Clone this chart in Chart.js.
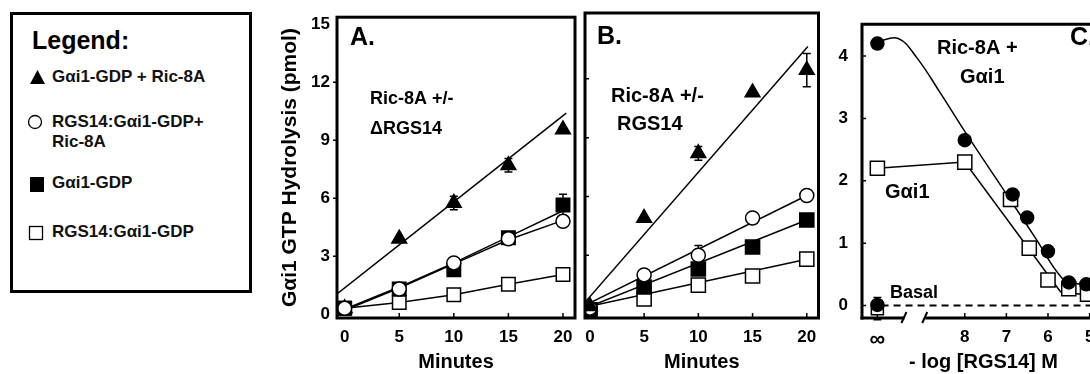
<!DOCTYPE html>
<html>
<head>
<meta charset="utf-8">
<title>Gαi1 GTP hydrolysis</title>
<script src="https://cdn.jsdelivr.net/npm/chart.js@4.4.1/dist/chart.umd.min.js"></script>
<style>
  html, body { margin:0; padding:0; background:#fff; }
  body { width:1090px; height:374px; overflow:hidden; position:relative; font-family:"Liberation Sans", Arial, Helvetica, sans-serif; color:#000; }
  canvas { position:absolute; top:0; }
  #cA { left:270px; } #cB { left:560px; } #cC { left:830px; }
  #legend { position:absolute; left:10px; top:12px; width:242px; height:281px; box-sizing:border-box; border:3px solid #000; }
  #legend .t { position:absolute; white-space:nowrap; font-weight:bold; font-size:17px; line-height:20px; color:#111; }
  #legend .ttl { font-size:25px; line-height:28px; color:#000; }
  #legend svg { position:absolute; left:0; top:0; }
</style>
</head>
<body>
<div id="legend">
  <svg width="236" height="275">
    <polygon points="17,69 24.5,55 32,69" fill="#000"/>
    <circle cx="22" cy="107" r="6.5" fill="#fff" stroke="#000" stroke-width="1.3"/>
    <rect x="17" y="162" width="14" height="15" fill="#000"/>
    <rect x="16.5" y="211.5" width="13" height="13" fill="#fff" stroke="#000" stroke-width="1.3"/>
  </svg>
  <div class="t ttl" style="left:19px; top:11px;">Legend:</div>
  <div class="t" style="left:39px; top:52px;">Gαi1-GDP + Ric-8A</div>
  <div class="t" style="left:39px; top:97px;">RGS14:Gαi1-GDP+<br>Ric-8A</div>
  <div class="t" style="left:39px; top:158px;">Gαi1-GDP</div>
  <div class="t" style="left:39px; top:207px;">RGS14:Gαi1-GDP</div>
</div>
<canvas id="cA" width="316" height="374"></canvas>
<canvas id="cB" width="270" height="374"></canvas>
<canvas id="cC" width="290" height="374"></canvas>
<script>
// ---------------- DATA ----------------
const minutes = [0, 5, 10, 15, 20];
const yTicksAB = [0, 3, 6, 9, 12, 15];

// Panel A : Ric-8A +/- ΔRGS14
const aTri = [0.3, 3.9, 5.75, 7.7, 9.55];
const aTriErr = [0, 0, 0.35, 0.35, 0];
const aCirc = [0.3, 1.3, 2.65, 3.9, 4.8];
const aFsq = [0.3, 1.3, 2.3, 3.95, 5.65];
const aFsqErr = [0, 0, 0, 0, 0.55];
const aOsq = [0.3, 0.6, 1.0, 1.55, 2.05];
const aTriFitX = [-0.7, 20.3];
const aTriFitY = [1.05, 10.4];
const aCircFitX = [0, 5, 10, 15, 20];
const aCircFitY = [0.2, 1.35, 2.6, 3.85, 4.85];
const aFsqFitX = [0, 5, 10, 15, 20.2];
const aFsqFitY = [0.25, 1.4, 2.65, 4.0, 5.4];

// Panel B : Ric-8A +/- RGS14
const bTri = [0.4, 4.9, 8.2, 11.3, 12.45];
const bTriErr = [0, 0, 0.35, 0, 0.85];
const bCirc = [0.3, 2.0, 3.0, 4.9, 6.05];
const bCircErr = [0, 0, 0.5, 0, 0];
const bFsq = [0.2, 1.38, 2.3, 3.42, 4.8];
const bOsq = [0.2, 0.77, 1.48, 1.94, 2.8];
const bTriFitX = [-0.45, 20.1];
const bTriFitY = [0.6, 13.65];
const bCircFitX = [-0.45, 20];
const bCircFitY = [0.45, 6.05];
const bFsqFitX = [-0.45, 20];
const bFsqFitY = [0.3, 4.8];
const bOsqFitX = [-0.45, 20];
const bOsqFitY = [0.35, 2.8];

// Panel C : -log [RGS14] M  (10.1 = "∞", no RGS14)
const INF = 10.1;
const cXTicks = [INF, 8, 7, 6, 5];
const cYTicks = [0, 1, 2, 3, 4];
const cCircX = [INF, 8, 6.85, 6.5, 6, 5.5, 5.08];
const cCircY = [4.2, 2.65, 1.78, 1.41, 0.87, 0.37, 0.34];
const cSqX = [INF, 8, 6.9, 6.45, 6, 5.5, 5.05];
const cSqY = [2.2, 2.3, 1.7, 0.92, 0.41, 0.27, 0.18];
const cBasalX = [INF];
const cBasalCircY = [0.01];
const cBasalSqY = [-0.05];
const cBasalSqErr = [0.18];
const cCircFitX = [INF, 9.6, 9.15, 8.6, 7.95, 7.0, 6.3, 5.65, 5.3, 4.7];
const cCircFitY = [4.23, 4.28, 3.97, 3.42, 2.74, 1.79, 1.08, 0.43, 0.35, 0.33];
const cSqFitX = [INF, 8, 5.7, 5.05, 4.7];
const cSqFitY = [2.2, 2.3, 0.22, 0.17, 0.15];
const cBasalLineX = [10.0, 4.6];
const cBasalLineY = [0, 0];

// ---------------- HELPERS ----------------
const FONT = '"Liberation Sans", Arial, Helvetica, sans-serif';
Chart.defaults.font.family = FONT;
Chart.defaults.color = '#000';

const pts = (xs, ys) => xs.map((x, i) => ({ x, y: ys[i] }));
function markers(xs, ys, style, fill, r, order) {
  return { data: pts(xs, ys), showLine: false, pointStyle: style, pointRadius: r, pointHoverRadius: r,
    pointBackgroundColor: fill, pointBorderColor: '#000', pointBorderWidth: 1.5, order };
}
function line(xs, ys, extra) {
  return Object.assign({ data: pts(xs, ys), showLine: true, pointRadius: 0, pointHoverRadius: 0,
    borderColor: '#000', borderWidth: 1.5, fill: false, tension: 0, order: 10 }, extra || {});
}

const decor = {
  id: 'decor',
  beforeDatasetsDraw(chart, args, o) {
    const ctx = chart.ctx, xs = chart.scales.x, ys = chart.scales.y;
    ctx.save();
    ctx.strokeStyle = '#000'; ctx.lineWidth = 1.5;
    (o.errors || []).forEach(e => {
      e.x.forEach((xv, i) => {
        const er = e.err[i]; if (!er) return;
        const px = xs.getPixelForValue(xv);
        const pT = ys.getPixelForValue(e.y[i] + er), pB = ys.getPixelForValue(e.y[i] - er);
        ctx.beginPath();
        ctx.moveTo(px, pT); ctx.lineTo(px, pB);
        ctx.moveTo(px - 4, pT); ctx.lineTo(px + 4, pT);
        ctx.moveTo(px - 4, pB); ctx.lineTo(px + 4, pB);
        ctx.stroke();
      });
    });
    ctx.restore();
  },
  afterDatasetsDraw(chart, args, o) {
    const ctx = chart.ctx, ca = chart.chartArea, xs = chart.scales.x, ys = chart.scales.y;
    ctx.save();
    ctx.strokeStyle = '#000'; ctx.fillStyle = '#000';
    ctx.lineWidth = 3;
    if (o.breaks) {
      const b1 = xs.getPixelForValue(o.breaks[0]), b2 = xs.getPixelForValue(o.breaks[1]);
      ctx.beginPath();
      ctx.moveTo(ca.left, ca.bottom + 1.5); ctx.lineTo(ca.left, ca.top); ctx.lineTo(ca.right, ca.top); ctx.lineTo(ca.right, ca.bottom);
      ctx.stroke();
      ctx.beginPath();
      ctx.moveTo(ca.left - 1.5, ca.bottom); ctx.lineTo(b1, ca.bottom);
      ctx.moveTo(b2, ca.bottom); ctx.lineTo(ca.right + 1.5, ca.bottom);
      ctx.stroke();
      ctx.lineWidth = 2;
      ctx.beginPath();
      ctx.moveTo(b1 - 3, ca.bottom + 5); ctx.lineTo(b1 + 2, ca.bottom - 6);
      ctx.moveTo(b2 - 3, ca.bottom + 5); ctx.lineTo(b2 + 2, ca.bottom - 6);
      ctx.stroke();
    } else {
      ctx.strokeRect(ca.left, ca.top, ca.width, ca.height);
    }
    ctx.lineWidth = 1.5;
    ctx.beginPath();
    (o.xMarks || []).forEach(v => {
      const px = xs.getPixelForValue(v);
      ctx.moveTo(px, ca.bottom); ctx.lineTo(px, ca.bottom - 5);
    });
    (o.yMarks || []).forEach(v => {
      const py = ys.getPixelForValue(v);
      ctx.moveTo(ca.left, py); ctx.lineTo(ca.left + o.yMarkLen, py);
    });
    ctx.stroke();
    ctx.textAlign = 'left'; ctx.textBaseline = 'middle';
    (o.texts || []).forEach(t => {
      ctx.font = 'bold ' + t.size + 'px ' + FONT;
      ctx.fillText(t.t, t.x - o.left, t.y);
    });
    ctx.restore();
  }
};

function panel(id, cfg) {
  return new Chart(document.getElementById(id), {
    type: 'scatter',
    data: { datasets: cfg.datasets },
    options: {
      responsive: false, animation: false, events: [],
      layout: { padding: cfg.padding },
      plugins: { legend: { display: false }, tooltip: { enabled: false }, decor: cfg.decor },
      scales: {
        x: {
          type: 'linear', min: cfg.x.min, max: cfg.x.max, reverse: !!cfg.x.reverse,
          afterBuildTicks: s => { s.ticks = cfg.x.ticks.map(v => ({ value: v })); },
          afterFit: s => { s.height = cfg.x.height; },
          grid: { display: false, drawTicks: false }, border: { display: false },
          ticks: { font: cfg.x.tickFont || { size: cfg.x.tickSize, weight: 'bold' }, color: '#000', padding: cfg.x.pad,
            autoSkip: false, maxRotation: 0, minRotation: 0, callback: cfg.x.cb || (v => String(v)) },
          title: { display: !!cfg.x.title, text: cfg.x.title, color: '#000', padding: 0,
            font: { size: cfg.x.titleSize, weight: 'bold' } }
        },
        y: {
          type: 'linear', min: cfg.y.min, max: cfg.y.max,
          afterBuildTicks: s => { s.ticks = cfg.y.ticks.map(v => ({ value: v })); },
          afterFit: s => { s.width = cfg.y.width; },
          grid: { display: false, drawTicks: false }, border: { display: false },
          ticks: { display: cfg.y.showLabels, font: { size: cfg.y.tickSize, weight: 'bold' }, color: '#000',
            padding: cfg.y.pad, autoSkip: false, callback: v => String(v) },
          title: { display: !!cfg.y.title, text: cfg.y.title, color: '#000', padding: 0,
            font: { size: cfg.y.titleSize || 19, weight: 'bold' } }
        }
      }
    },
    plugins: [decor]
  });
}

// ---------------- PANEL A ----------------
panel('cA', {
  padding: { left: 8, top: 13, right: 4, bottom: 0 },
  x: { min: -0.7, max: 21.1, ticks: minutes, height: 56, pad: 9, tickSize: 17, title: 'Minutes', titleSize: 20 },
  y: { min: -0.2, max: 15.36, ticks: yTicksAB, width: 59, pad: 7, tickSize: 17, showLabels: true,
       title: 'Gαi1 GTP Hydrolysis (pmol)', titleSize: 21 },
  datasets: [
    markers(minutes, aCirc, 'circle', '#fff', 7, 0),
    markers(minutes, aTri, 'triangle', '#000', 8.5, 1),
    markers(minutes, aFsq, 'rect', '#000', 9.5, 2),
    markers(minutes, aOsq, 'rect', '#fff', 9.5, 3),
    line(aTriFitX, aTriFitY),
    line(aCircFitX, aCircFitY),
    line(aFsqFitX, aFsqFitY),
    line(minutes, aOsq)
  ],
  decor: {
    left: 270,
    errors: [{ x: minutes, y: aTri, err: aTriErr }, { x: minutes, y: aFsq, err: aFsqErr }],
    xMarks: [5, 10, 15, 20], yMarks: [3, 6, 9, 12], yMarkLen: -4,
    texts: [
      { t: 'A.', x: 350, y: 38, size: 25 },
      { t: 'Ric-8A +/-', x: 370, y: 99, size: 18 },
      { t: 'ΔRGS14', x: 370, y: 129, size: 18 }
    ]
  }
});

// ---------------- PANEL B ----------------
panel('cB', {
  padding: { left: 0, top: 13, right: 5, bottom: 0 },
  x: { min: -0.45, max: 21.08, ticks: minutes, height: 56, pad: 9, tickSize: 17, title: 'Minutes', titleSize: 20 },
  y: { min: -0.2, max: 15.36, ticks: yTicksAB, width: 25, pad: 0, tickSize: 17, showLabels: false },
  datasets: [
    markers(minutes, bTri, 'triangle', '#000', 8.5, 0),
    markers(minutes, bCirc, 'circle', '#fff', 7, 1),
    markers(minutes, bFsq, 'rect', '#000', 10, 2),
    markers(minutes, bOsq, 'rect', '#fff', 10, 3),
    line(bTriFitX, bTriFitY),
    line(bCircFitX, bCircFitY),
    line(bFsqFitX, bFsqFitY),
    line(bOsqFitX, bOsqFitY)
  ],
  decor: {
    left: 560,
    errors: [{ x: minutes, y: bTri, err: bTriErr }, { x: minutes, y: bCirc, err: bCircErr }],
    xMarks: [5, 10, 15, 20], yMarks: [3, 6, 9, 12], yMarkLen: 4,
    texts: [
      { t: 'B.', x: 597, y: 37, size: 25 },
      { t: 'Ric-8A +/-', x: 611, y: 96, size: 20 },
      { t: 'RGS14', x: 617, y: 124, size: 20 }
    ]
  }
});

// ---------------- PANEL C ----------------
panel('cC', {
  padding: { left: 0, top: 12, right: 15, bottom: 0 },
  x: { min: 4.63, max: 10.47, reverse: true, ticks: cXTicks, height: 56, pad: 9, tickSize: 17,
       tickFont: c => ({ size: (c.tick && c.tick.value === INF) ? 22 : 17, weight: 'bold' }),
       cb: v => (v === INF ? '∞' : String(v)), title: '- log [RGS14] M', titleSize: 20 },
  y: { min: -0.2, max: 4.51, ticks: cYTicks, width: 32, pad: 14, tickSize: 17, showLabels: true },
  datasets: [
    markers(cCircX, cCircY, 'circle', '#000', 6.5, 0),
    markers(cBasalX, cBasalCircY, 'circle', '#000', 6.5, 1),
    markers(cSqX, cSqY, 'rect', '#fff', 10, 2),
    markers(cBasalX, cBasalSqY, 'rect', '#fff', 8.5, 3),
    line(cCircFitX, cCircFitY, { tension: 0.4 }),
    line(cSqFitX, cSqFitY),
    line(cBasalLineX, cBasalLineY, { borderDash: [7, 5], borderWidth: 2 })
  ],
  decor: {
    left: 830,
    breaks: [9.45, 8.95],
    errors: [{ x: cBasalX, y: cBasalSqY, err: cBasalSqErr }],
    xMarks: [8, 7, 6, 5], yMarks: cYTicks, yMarkLen: 4,
    texts: [
      { t: 'C.', x: 1070, y: 38, size: 25 },
      { t: 'Ric-8A +', x: 937, y: 48, size: 20 },
      { t: 'Gαi1', x: 960, y: 77, size: 20 },
      { t: 'Gαi1', x: 885, y: 192, size: 20 },
      { t: 'Basal', x: 890, y: 293, size: 18 }
    ]
  }
});
</script>
</body>
</html>
